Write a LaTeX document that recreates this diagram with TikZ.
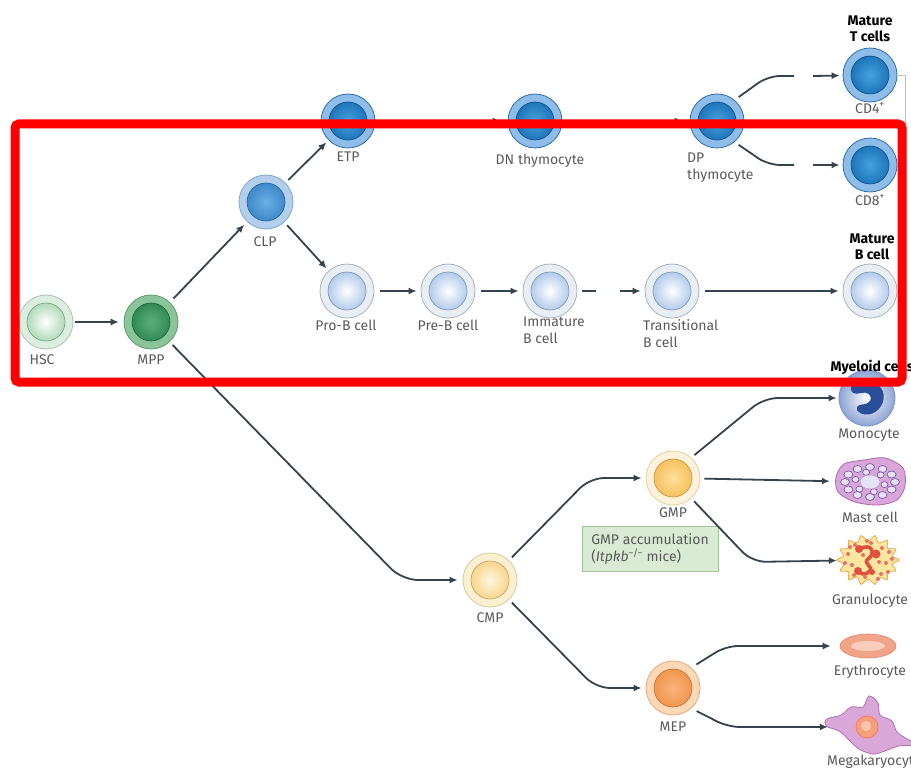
\documentclass[tikz,border=0pt]{standalone}
\usepackage{fontspec}
\setmainfont{Fira Sans}
\usetikzlibrary{positioning,arrows.meta,shapes.geometric,calc}
\definecolor{linec}{HTML}{34434D}
\definecolor{txtgray}{HTML}{5A5A5A}
\definecolor{hscB}{HTML}{A9C4B0}\definecolor{hscO}{HTML}{DCEEE0}\definecolor{hscN}{HTML}{8FCB9C}
\definecolor{mppB}{HTML}{5E9A6E}\definecolor{mppO}{HTML}{8CC49A}\definecolor{mppI}{HTML}{5BB07A}\definecolor{mppN}{HTML}{1F7A44}
\definecolor{clpB}{HTML}{7FA6CF}\definecolor{clpO}{HTML}{B3CFEC}\definecolor{clpI}{HTML}{6BB0E4}\definecolor{clpN}{HTML}{2B78BE}
\definecolor{tB}{HTML}{2F6EA8}\definecolor{tO}{HTML}{8DBDE8}\definecolor{tI}{HTML}{46A2E0}\definecolor{tN}{HTML}{0E62A8}
\definecolor{bB}{HTML}{A7B3C0}\definecolor{bO}{HTML}{E9EEF5}\definecolor{bN}{HTML}{93B6E2}
\definecolor{cmpB}{HTML}{D9C89C}\definecolor{cmpO}{HTML}{FBF0D2}\definecolor{cmpI}{HTML}{FFF7DF}\definecolor{cmpN}{HTML}{F4C86C}
\definecolor{gmpB}{HTML}{E3CFA0}\definecolor{gmpO}{HTML}{FDF3DC}\definecolor{gmpI}{HTML}{FFE09A}\definecolor{gmpN}{HTML}{F3B446}
\definecolor{mepB}{HTML}{E3A978}\definecolor{mepO}{HTML}{FCD8B6}\definecolor{mepI}{HTML}{FBB37C}\definecolor{mepN}{HTML}{EC8A3C}
\definecolor{monoB}{HTML}{7D93C4}\definecolor{monoO}{HTML}{8CA3D4}\definecolor{monoN}{HTML}{2B4E9B}
\definecolor{mastF}{HTML}{D9A6D9}\definecolor{mastB}{HTML}{A86AA8}\definecolor{vesF}{HTML}{E8E2F6}\definecolor{vesB}{HTML}{7E5AA8}
\definecolor{granF}{HTML}{FCE6A0}\definecolor{granB}{HTML}{E8A94A}\definecolor{granR}{HTML}{E0503E}
\definecolor{eryF}{HTML}{F2A488}\definecolor{eryB}{HTML}{E0866A}\definecolor{eryI}{HTML}{F9CDBC}
\definecolor{megaF}{HTML}{D9A8D8}\definecolor{megaB}{HTML}{B070B0}\definecolor{megaN}{HTML}{F4A07A}
\definecolor{boxF}{HTML}{D9EBD4}\definecolor{boxB}{HTML}{A3C49A}
\begin{document}
\begin{tikzpicture}[x=1pt, y=-1pt,
every node/.style={font=\fontsize{14}{17}\selectfont, text=txtgray},
cell/.style n args={4}{circle, draw=#1, fill=#2, line width=0.8pt, minimum size=54pt, inner sep=0pt,
  path picture={\shadedraw[inner color=#3, outer color=#4, draw=#4!80!black, line width=0.6pt]
    (path picture bounding box.center) circle (19pt);}},
lbl/.style={inner sep=1pt},
lbll/.style={inner sep=1pt, anchor=north west, align=left},
head/.style={font=\fontsize{14}{16}\selectfont\bfseries, text=black, align=center},
conn/.style={draw=linec, line width=1.8pt, -{Latex[length=8pt,width=7pt]}},
plain/.style={draw=linec, line width=1.8pt},
redbox/.style={draw=red, line width=9pt, rounded corners=4pt},
]
\useasboundingbox (0,0) rectangle (911,770);
% progenitors
\node[cell={hscB}{hscO}{white}{hscN}] (hsc) at (46,322) {};
\node[cell={mppB}{mppO}{mppI}{mppN}] (mpp) at (151,322) {};
\node[cell={clpB}{clpO}{clpI}{clpN}] (clp) at (266,202) {};
\node[cell={cmpB}{cmpO}{cmpI}{cmpN}] (cmp) at (490,580) {};
\node[cell={gmpB}{gmpO}{gmpI}{gmpN}] (gmp) at (673,478) {};
\node[cell={mepB}{mepO}{mepI}{mepN}] (mep) at (673,688) {};
% T cells
\node[cell={tB}{tO}{tI}{tN}] (etp) at (348,121) {};
\node[cell={tB}{tO}{tI}{tN}] (dn) at (535,121) {};
\node[cell={tB}{tO}{tI}{tN}] (dp) at (717,121) {};
\node[cell={tB}{tO}{tI}{tN}] (cd4) at (870,75) {};
\node[cell={tB}{tO}{tI}{tN}] (cd8) at (870,165) {};
% B cells
\node[cell={bB}{bO}{white}{bN}] (prob) at (347,291) {};
\node[cell={bB}{bO}{white}{bN}] (preb) at (448,291) {};
\node[cell={bB}{bO}{white}{bN}] (immb) at (550,291) {};
\node[cell={bB}{bO}{white}{bN}] (trb) at (672,291) {};
\node[cell={bB}{bO}{white}{bN}] (matb) at (870,291) {};
% myeloid cells
\node[circle, minimum size=56pt, draw=monoB, line width=0.8pt, shade, inner color=white, outer color=monoO] (mono) at (867,398) {};
\begin{scope}[shift={(mono.center)}]
\fill[monoN] (-16,-11) .. controls (-14,-19) and (6,-20) .. (14,-10) .. controls (20,-2) and (16,12) .. (4,16)
  .. controls (-4,18) and (-12,14) .. (-10,9) .. controls (-8,5) and (0,8) .. (3,3)
  .. controls (6,-3) and (0,-7) .. (-6,-5) .. controls (-12,-3) and (-17,-5) .. (-16,-11) -- cycle;
\end{scope}
\node[minimum width=70pt, minimum height=46pt, inner sep=0pt] (mast) at (870,482) {};
\begin{scope}[shift={(mast.center)}]
\draw[fill=mastF, draw=mastB, line width=0.8pt] plot[smooth cycle] coordinates
  {(-34,-5) (-26,-18) (-6,-22) (15,-24) (33,-14) (35,4) (27,18) (8,23) (-15,20) (-32,10)};
\foreach \a in {0,30,...,330}
  \draw[fill=vesF, draw=vesB, line width=0.7pt] (\a:25 and 15) ellipse (4.5 and 3.5);
\foreach \a in {15,75,...,315}
  \draw[fill=vesF, draw=vesB, line width=0.7pt] (\a:15 and 10) ellipse (3.5 and 3);
\draw[fill=vesF, draw=vesB!60, line width=0.5pt] (0,0) ellipse (10 and 7);
\end{scope}
\node[circle, minimum size=56pt, inner sep=0pt] (gran) at (868,560) {};
\begin{scope}[shift={(gran.center)}]
\draw[fill=granF, draw=granB, line width=0.8pt] plot[smooth cycle, domain=0:347.14, samples=28]
  ({(28+3*cos(14*\x))*cos(\x)}, {(22+3*cos(14*\x))*sin(\x)});
\draw[granR, line width=3.5pt, line cap=round] (-8,-11) .. controls (4,-18) and (8,-6) .. (0,-1)
  .. controls (-6,3) and (6,7) .. (2,11) .. controls (-2,16) and (-9,14) .. (-11,10);
\fill[granR] (-9,-11) circle (4) (8,-6) circle (4.5) (-10,11) circle (4) (4,12) circle (3);
\foreach \p in {(-20,-6),(-16,5),(-13,-15),(-3,17),(3,-17),(14,-12),(18,3),(13,14),(-23,3),(21,-8),(-14,15),(10,19),(-5,-5),(20,12),(-18,-13),(11,2),(-1,-19),(24,-1)}
  \fill[granR!80] \p circle (2);
\end{scope}
\node[ellipse, minimum width=56pt, minimum height=24pt, inner sep=0pt, draw=eryB, fill=eryF, line width=0.6pt] (ery) at (868,646) {};
\fill[eryI] (ery.center) ellipse (17 and 5);
\node[minimum width=76pt, minimum height=56pt, inner sep=0pt] (mega) at (867,727) {};
\begin{scope}[shift={(mega.center)}]
\draw[fill=megaF, draw=megaB, line width=0.8pt] plot[smooth cycle, tension=0.6] coordinates
  {(-40,-8) (-26,-12) (-16,-20) (-4,-20) (2,-31) (11,-24) (13,-12) (25,-6) (30,5) (42,13) (52,18) (32,19) (18,24) (6,27) (-8,22) (-18,13) (-28,4) (-41,-1)};
\draw[fill=megaN, draw=megaN!70!red, line width=0.6pt] (0,0) circle (11);
\fill[megaN!60!white] (-1,-1) circle (5);
\end{scope}
% labels
\node[lbl] (hsc-l) at (42,360) {HSC};
\node[lbl] (mpp-l) at (151,360) {MPP};
\node[lbl] (clp-l) at (265,242) {CLP};
\node[lbl] (etp-l) at (348,157) {ETP};
\node[lbl] (dn-l) at (540,161) {DN thymocyte};
\node[lbll] (dp-l) at (686,152) {DP\\thymocyte};
\node[lbl] (cd4-l) at (870,108) {CD4\textsuperscript{+}};
\node[lbl] (cd8-l) at (870,200) {CD8\textsuperscript{+}};
\node[lbl] (prob-l) at (346,325) {Pro-B cell};
\node[lbl] (preb-l) at (448,325) {Pre-B cell};
\node[lbll] (immb-l) at (522,316) {Immature\\B cell};
\node[lbll] (trb-l) at (642,318) {Transitional\\B cell};
\node[lbl] (cmp-l) at (490,618) {CMP};
\node[lbl] (gmp-l) at (673,513) {GMP};
\node[lbl] (mep-l) at (673,727) {MEP};
\node[lbl] (mono-l) at (869,435) {Monocyte};
\node[lbl] (mast-l) at (870,517) {Mast cell};
\node[lbl] (gran-l) at (870,601) {Granulocyte};
\node[lbl] (ery-l) at (870,672) {Erythrocyte};
\node[lbl, anchor=west] (mega-l) at (826,762) {Megakaryocyte};
\node[head] (tcells) at (870,29) {Mature\\T cells};
\node[head] (bcells) at (872,247) {Mature\\B cell};
\node[head, anchor=west] (myeloid) at (827,367) {Myeloid cells};
\node[draw=boxB, fill=boxF, line width=0.8pt, minimum width=136pt, minimum height=45pt, align=left, inner sep=3pt] (gmpbox) at (650,549)
  {GMP accumulation\\(\textit{Itpkb}\textsuperscript{−/−} mice)};
% connectors
\coordinate (b1) at (596,291);
\coordinate (b2) at (620,291);
\coordinate (t4a) at (794,76);
\coordinate (t4b) at (813,76);
\coordinate (t8a) at (794,165);
\coordinate (t8b) at (813,165);
\draw[conn, line width=1.1pt, shorten <=2pt, shorten >=5pt] (hsc) -- (mpp);
\draw[conn, shorten <=5pt, shorten >=4pt] (mpp) -- (clp);
\draw[conn, shorten <=4pt, shorten >=3pt] (clp) -- (etp);
\draw[conn, shorten <=4pt, shorten >=3pt] (clp) -- (prob);
\draw[conn, shorten <=4pt, shorten >=7pt] (etp) -- (dn);
\draw[conn, shorten <=4pt, shorten >=7pt] (dn) -- (dp);
\draw[conn, shorten <=6pt, shorten >=4pt] (prob) -- (preb);
\draw[conn, shorten <=6pt, shorten >=4pt] (preb) -- (immb);
\draw[plain, shorten <=5pt] (immb) -- (b1);
\draw[conn, shorten >=4pt] (b2) -- (trb);
\draw[conn, shorten <=6pt, shorten >=4pt] (trb) -- (matb);
\draw[plain, rounded corners=12pt, shorten <=5pt] (dp.50) -- (768,76) -- (t4a);
\draw[conn, shorten >=3pt] (t4b) -- (cd4);
\draw[plain, rounded corners=12pt, shorten <=5pt] (dp.-50) -- (768,165) -- (t8a);
\draw[conn, shorten >=3pt] (t8b) -- (cd8);
\draw[gray!50, line width=0.8pt] (cd4.east) -- (905,75) -- (905,125);
\draw[conn, rounded corners=16pt, shorten <=4pt, shorten >=5pt] (mpp.-47) -- (402,580) -- (cmp);
\draw[conn, rounded corners=14pt, shorten <=4pt, shorten >=4pt] (cmp.46) -- (590,478) -- (gmp);
\draw[conn, rounded corners=14pt, shorten <=4pt, shorten >=4pt] (cmp.-46) -- (596,688) -- (mep);
\draw[conn, rounded corners=14pt, shorten <=4pt, shorten >=2pt] (gmp.48) -- (764,398) -- (mono);
\draw[conn, shorten <=4pt, shorten >=5pt] (gmp) -- (mast);
\draw[conn, rounded corners=14pt, shorten <=4pt, shorten >=3pt] (gmp.-48) -- (752,562) -- (gran);
\draw[conn, rounded corners=12pt, shorten <=6pt, shorten >=9pt] (mep.48) -- (726,646) -- (ery);
\draw[conn, rounded corners=12pt, shorten <=6pt, shorten >=1pt] (mep.-48) -- (728,727) -- (mega);
% highlight box
\draw[redbox] (15,124) rectangle (902,382);
\end{tikzpicture}
\end{document}
